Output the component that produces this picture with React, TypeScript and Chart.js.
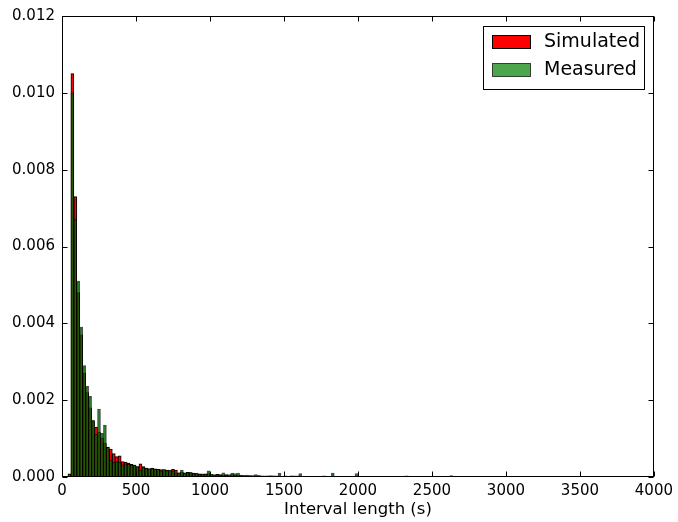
import { useEffect, useRef } from 'react';
import { Chart, registerables } from 'chart.js';

Chart.register(...registerables);

// Histogram bins: left edge of the first bin and bin width (seconds)
const BIN_START = 40;
const BIN_WIDTH = 20;

const simulated: number[] = [
  0.00008, 0.0105, 0.0073, 0.0048, 0.0037, 0.0027, 0.0022, 0.0018, 0.00145, 0.0013,
  0.00117, 0.00101, 0.00088, 0.00078, 0.00073, 0.00061, 0.00053, 0.00055, 0.0004, 0.00039,
  0.00036, 0.00033, 0.00031, 0.00027, 0.00034, 0.00027, 0.00023, 0.00021, 0.00023, 0.00021,
  0.0002, 0.00019, 0.00018, 0.00018, 0.00017, 0.0002, 0.00018, 0.00011, 0.00012, 0.00011,
  0.00012, 0.00011, 0.0001, 0.00009, 0.00008, 0.00007, 0.00008, 0.00009, 0.00006, 0.00005,
  0.00007, 0.00006, 0.00005, 0.00006, 0.00004, 0.00006, 0.00005, 0.00005, 0.00004, 0.00004,
  0.00003, 0.00004, 0.00003, 0.00003, 0.00004, 0.00003, 0.00002, 0.00003, 0.00002, 0.00003,
  0.00002, 0.00002, 0.00002, 0.00002, 0.00002, 0.00003, 0.00002, 0.00002, 0.00002, 0.00001,
  0.00002, 0.00001, 0.00002, 0.00001, 0.00001, 0.00002, 0.00001, 0.00001, 0.00002, 0.00001,
  0.00001, 0.00001, 0.00002, 0.00001, 0.00001, 0.00001, 0.00002, 0.00001, 0.00001, 0.00001,
  0.00001, 0, 0.00001, 0.00001, 0, 0.00001, 0.00001, 0, 0.00001, 0,
  0.00001, 0.00001, 0, 0.00001, 0, 0, 0.00001, 0, 0.00001, 0,
  0, 0.00001, 0, 0, 0.00001, 0, 0, 0.00001, 0, 0,
  0.00001, 0, 0, 0, 0.00001, 0, 0, 0, 0, 0.00001,
  0, 0, 0, 0.00001, 0, 0, 0, 0, 0, 0,
  0.00001, 0, 0, 0, 0, 0, 0, 0, 0.00001, 0,
  0, 0, 0, 0, 0, 0, 0.00001, 0, 0, 0,
  0, 0, 0, 0, 0, 0, 0, 0.00001,
];

const measured: number[] = [
  0, 0.01, 0.0067, 0.0051, 0.0039, 0.0029, 0.00236, 0.0021, 0.00148, 0.00112,
  0.00177, 0.00114, 0.00135, 0.00077, 0.00044, 0.00038, 0.0004, 0.00038, 0.00032, 0.00034,
  0.00033, 0.00031, 0.00031, 0.00027, 0.00018, 0.00026, 0.00023, 0.00022, 0.00022, 0.0002,
  0.0002, 0.00016, 0.0002, 0.00017, 0.00018, 0.00016, 0.00011, 0.00011, 0.00018, 0.0001,
  0.00011, 0.00012, 0.00009, 0.0001, 0.00007, 0.00008, 0.00007, 0.00016, 0.00007, 0.00006,
  0.00006, 0.00005, 0.00011, 0.00005, 0.00006, 0.0001, 0.00009, 0.0001, 0.00005, 0.00004,
  0.00005, 0.00003, 0.00004, 0.00006, 0.00003, 0.00002, 0.00003, 0.00002, 0.00004, 0.00002,
  0.00003, 0.0001, 0.00002, 0.00003, 0.00002, 0.00002, 0.00003, 0.00003, 0.00009, 0.00002,
  0.00001, 0.00002, 0.00001, 0.00001, 0.00002, 0.00001, 0.00003, 0.00002, 0.00001, 0.0001,
  0.00002, 0.00001, 0.00001, 0.00002, 0.00001, 0.00001, 0.00002, 0.00009, 0.00001, 0.00001,
  0.00001, 0.00002, 0, 0.00001, 0.00001, 0, 0.00001, 0.00002, 0, 0.00001,
  0, 0.00001, 0.00001, 0, 0.00003, 0, 0.00001, 0, 0, 0.00001,
  0.00001, 0, 0.00001, 0, 0, 0.00002, 0, 0, 0.00001, 0.00004,
  0, 0.00001, 0, 0, 0, 0.00001, 0, 0, 0, 0,
  0.00001, 0, 0, 0, 0, 0.00001, 0, 0, 0, 0,
  0, 0, 0.00001, 0, 0, 0, 0, 0, 0, 0,
  0, 0.00001, 0, 0, 0, 0, 0, 0, 0, 0,
  0, 0, 0, 0.00001, 0, 0, 0, 0.00001,
];

const xTickValues = [0, 500, 1000, 1500, 2000, 2500, 3000, 3500, 4000];
const yTickValues = [0, 0.002, 0.004, 0.006, 0.008, 0.01, 0.012];
const seriesLabels = ['Simulated', 'Measured'];
const xTitle = 'Interval length (s)';

const FONT = '"DejaVu Sans", "Bitstream Vera Sans", sans-serif';

const binCenter = (i: number) => BIN_START + BIN_WIDTH * i + BIN_WIDTH / 2;

const mplPlugin = {
  id: 'mplDecor',
  afterDatasetsDraw(chart: any) {
    const { ctx, chartArea: a, scales } = chart;
    ctx.save();
    ctx.strokeStyle = '#000';
    ctx.lineWidth = 1;
    const L = Math.round(a.left) + 0.5;
    const R = Math.round(a.right) - 0.5;
    const T = Math.round(a.top) + 0.5;
    const B = Math.round(a.bottom) - 0.5;
    const tl = 5;
    ctx.beginPath();
    xTickValues.forEach((v) => {
      const px = Math.round(scales.x.getPixelForValue(v)) + 0.5;
      ctx.moveTo(px, B);
      ctx.lineTo(px, B - tl);
      ctx.moveTo(px, T);
      ctx.lineTo(px, T + tl);
    });
    yTickValues.forEach((v) => {
      const py = Math.round(scales.y.getPixelForValue(v)) + 0.5;
      ctx.moveTo(L, py);
      ctx.lineTo(L + tl, py);
      ctx.moveTo(R, py);
      ctx.lineTo(R - tl, py);
    });
    ctx.stroke();
    ctx.strokeRect(L, T, R - L, B - T);
    ctx.restore();
  },
  afterDraw(chart: any) {
    const { ctx, chartArea: a } = chart;
    ctx.save();
    ctx.font = `19px ${FONT}`;
    const textW = Math.max(...seriesLabels.map((s) => ctx.measureText(s).width));
    const padL = 9, patchW = 38, gap = 14, padR = 4;
    const boxW = padL + patchW + gap + textW + padR;
    const right = Math.round(a.right) - 10;
    const top = Math.round(a.top) + 10;
    const left = right - boxW;
    const rowH = 28;
    const boxH = 63;
    ctx.fillStyle = '#fff';
    ctx.fillRect(left, top, boxW, boxH);
    ctx.strokeStyle = '#000';
    ctx.lineWidth = 1;
    ctx.strokeRect(Math.round(left) + 0.5, top + 0.5, Math.round(boxW), boxH);
    const fills = ['rgb(255,0,0)', 'rgba(0,128,0,0.7)'];
    const edges = ['#000', 'rgba(0,0,0,0.7)'];
    seriesLabels.forEach((lab, k) => {
      const cy = top + 16 + k * rowH;
      const px = Math.round(left + padL) + 0.5;
      const py = Math.round(cy - 7) + 0.5;
      ctx.fillStyle = fills[k];
      ctx.fillRect(px, py, patchW, 13);
      ctx.strokeStyle = edges[k];
      ctx.strokeRect(px, py, patchW, 13);
      ctx.fillStyle = '#000';
      ctx.textBaseline = 'middle';
      ctx.textAlign = 'left';
      ctx.fillText(lab, left + padL + patchW + gap, cy);
    });
    ctx.restore();
  },
};

export default function App() {
  const canvasRef = useRef<HTMLCanvasElement | null>(null);

  useEffect(() => {
    document.body.style.margin = '0';
    const canvas = canvasRef.current;
    if (!canvas) return;
    const chart = new Chart(canvas, {
      type: 'bar',
      data: {
        datasets: [
          {
            label: seriesLabels[0],
            data: simulated.map((y, i) => ({ x: binCenter(i), y })),
            backgroundColor: 'rgb(255,0,0)',
            borderColor: '#000',
            borderWidth: 1,
            borderSkipped: false,
            grouped: false,
            barPercentage: 1,
            categoryPercentage: 1,
            order: 2,
          } as any,
          {
            label: seriesLabels[1],
            data: measured.map((y, i) => ({ x: binCenter(i), y })),
            backgroundColor: 'rgba(0,128,0,0.7)',
            borderColor: 'rgba(0,0,0,0.7)',
            borderWidth: 1,
            borderSkipped: false,
            grouped: false,
            barPercentage: 1,
            categoryPercentage: 1,
            order: 1,
          } as any,
        ],
      },
      options: {
        animation: false,
        responsive: false,
        maintainAspectRatio: false,
        layout: { padding: { top: 15, right: 20, left: 0, bottom: 0 } },
        plugins: { legend: { display: false }, tooltip: { enabled: false } },
        scales: {
          x: {
            type: 'linear',
            min: 0,
            max: 4000,
            offset: false,
            grid: { display: false, drawTicks: false },
            border: { display: false },
            afterBuildTicks: (s: any) => {
              s.ticks = xTickValues.map((v) => ({ value: v }));
            },
            ticks: {
              color: '#000',
              font: { family: FONT, size: 15 },
              padding: 5,
              autoSkip: false,
              maxRotation: 0,
              callback: (v: any) => String(v),
            },
            title: {
              display: true,
              text: xTitle,
              color: '#000',
              font: { family: FONT, size: 16.5 },
              padding: { top: 0, bottom: 2 },
            },
            afterFit: (s: any) => {
              s.height = 45;
            },
          },
          y: {
            type: 'linear',
            min: 0,
            max: 0.012,
            grid: { display: false, drawTicks: false },
            border: { display: false },
            afterBuildTicks: (s: any) => {
              s.ticks = yTickValues.map((v) => ({ value: v }));
            },
            ticks: {
              color: '#000',
              font: { family: FONT, size: 15 },
              padding: 7,
              callback: (v: any) => Number(v).toFixed(3),
            },
            afterFit: (s: any) => {
              s.width = 62;
            },
          },
        },
      } as any,
      plugins: [mplPlugin],
    });
    return () => chart.destroy();
  }, []);

  return (
    <div style={{ width: 678, height: 522 }}>
      <canvas ref={canvasRef} width={678} height={522} style={{ display: 'block' }} />
    </div>
  );
}
